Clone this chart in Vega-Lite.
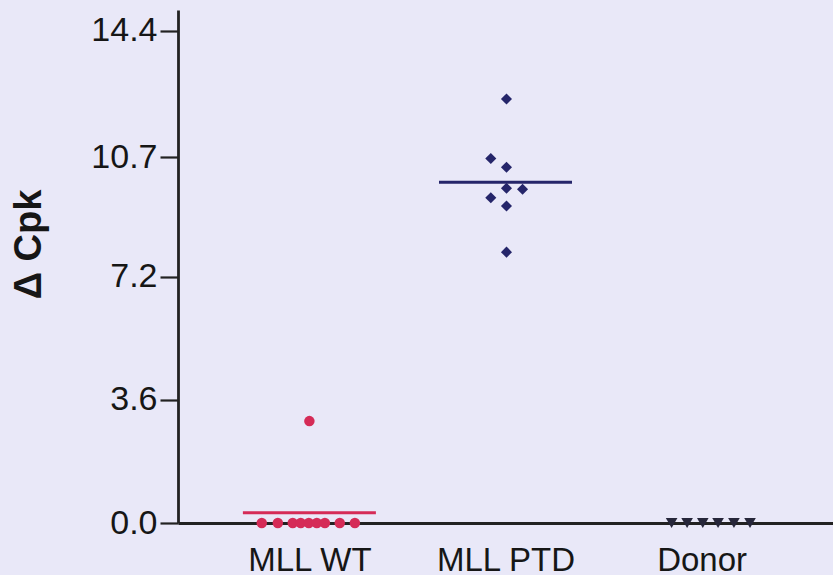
{
  "$schema": "https://vega.github.io/schema/vega-lite/v6.json",
  "autosize": "none",
  "width": 655,
  "height": 513,
  "padding": {"left": 178, "top": 10, "right": 0, "bottom": 52},
  "background": "#e9e8f8",
  "config": {
    "view": {"stroke": null},
    "font": "Liberation Sans"
  },
  "data": {
    "values": [
      {"group": "MLL WT", "value": 0.0, "jit": -0.243},
      {"group": "MLL WT", "value": 0.0, "jit": -0.161},
      {"group": "MLL WT", "value": 0.0, "jit": -0.085},
      {"group": "MLL WT", "value": 0.0, "jit": -0.044},
      {"group": "MLL WT", "value": 0.0, "jit": -0.003},
      {"group": "MLL WT", "value": 0.0, "jit": 0.038},
      {"group": "MLL WT", "value": 0.0, "jit": 0.079},
      {"group": "MLL WT", "value": 0.0, "jit": 0.155},
      {"group": "MLL WT", "value": 0.0, "jit": 0.232},
      {"group": "MLL WT", "value": 2.98, "jit": 0.0},
      {"group": "MLL PTD", "value": 12.40, "jit": 0.005},
      {"group": "MLL PTD", "value": 10.66, "jit": -0.075},
      {"group": "MLL PTD", "value": 10.40, "jit": 0.005},
      {"group": "MLL PTD", "value": 9.79, "jit": 0.005},
      {"group": "MLL PTD", "value": 9.76, "jit": 0.087},
      {"group": "MLL PTD", "value": 9.51, "jit": -0.075},
      {"group": "MLL PTD", "value": 9.27, "jit": 0.005},
      {"group": "MLL PTD", "value": 7.92, "jit": 0.005},
      {"group": "Donor", "value": 0.0, "jit": -0.153},
      {"group": "Donor", "value": 0.0, "jit": -0.074},
      {"group": "Donor", "value": 0.0, "jit": 0.006},
      {"group": "Donor", "value": 0.0, "jit": 0.084},
      {"group": "Donor", "value": 0.0, "jit": 0.165},
      {"group": "Donor", "value": 0.0, "jit": 0.247}
    ]
  },
  "encoding": {
    "x": {
      "field": "group",
      "type": "nominal",
      "sort": ["MLL WT", "MLL PTD", "Donor"],
      "scale": {"type": "point", "padding": 0.67},
      "axis": {
        "title": null,
        "ticks": false,
        "labelAngle": 0,
        "labelFontSize": 33,
        "labelColor": "#161616",
        "labelPadding": 21,
        "domainColor": "#222222",
        "domainWidth": 2.8,
        "grid": false
      }
    },
    "y": {
      "field": "value",
      "type": "quantitative",
      "scale": {"domain": [0, 15], "nice": false, "zero": true},
      "axis": {
        "title": "Δ Cpk",
        "titleFontSize": 38,
        "titleFontWeight": "bold",
        "titleColor": "#161616",
        "titleAngle": -90,
        "titleX": -149,
        "titleY": 234,
        "titleAlign": "center",
        "titleBaseline": "middle",
        "values": [0, 3.6, 7.2, 10.7, 14.4],
        "format": ".1f",
        "labelFontSize": 34,
        "labelColor": "#161616",
        "labelPadding": 3,
        "tickSize": 18,
        "tickWidth": 2.2,
        "tickColor": "#222222",
        "domainColor": "#222222",
        "domainWidth": 2.8,
        "grid": false
      }
    }
  },
  "layer": [
    {
      "transform": [{"filter": "datum.group !== 'Donor'"}],
      "mark": {"type": "tick", "orient": "horizontal", "size": 133, "thickness": 3},
      "encoding": {
        "y": {"aggregate": "mean", "field": "value", "type": "quantitative"},
        "color": {
          "field": "group",
          "type": "nominal",
          "scale": {"domain": ["MLL WT", "MLL PTD", "Donor"], "range": ["#d52b57", "#25256a", "#26263a"]},
          "legend": null
        }
      }
    },
    {
      "mark": {"type": "point", "filled": true, "opacity": 1},
      "encoding": {
        "xOffset": {"field": "jit", "type": "quantitative", "scale": {"domain": [-1, 1], "range": [-196, 196]}},
        "color": {
          "field": "group",
          "type": "nominal",
          "scale": {"domain": ["MLL WT", "MLL PTD", "Donor"], "range": ["#d52b57", "#25256a", "#26263a"]},
          "legend": null
        },
        "shape": {
          "field": "group",
          "type": "nominal",
          "scale": {"domain": ["MLL WT", "MLL PTD", "Donor"], "range": ["circle", "diamond", "triangle-down"]},
          "legend": null
        },
        "size": {
          "field": "group",
          "type": "nominal",
          "scale": {"domain": ["MLL WT", "MLL PTD", "Donor"], "range": [110, 135, 65]},
          "legend": null
        }
      }
    }
  ]
}
